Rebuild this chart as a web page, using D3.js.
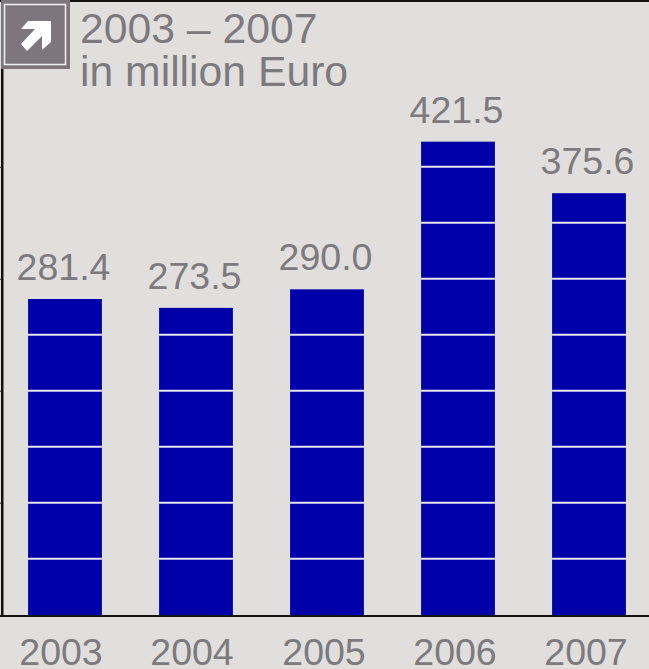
<!DOCTYPE html>
<html><head><meta charset="utf-8"><style>html,body{margin:0;padding:0;background:#e0dfde}svg{display:block}text{font-family:"Liberation Sans",Arial,sans-serif;fill:#7d7a7d}</style>
<script src="https://cdn.jsdelivr.net/npm/d3@7"></script></head><body><svg id="c" width="649" height="669"></svg>
<script>
const categories=["2003","2004","2005","2006","2007"];
const values=[281.4,273.5,290.0,421.5,375.6];
const valueLabels=["281.4","273.5","290.0","421.5","375.6"];
const gridValues=[50,100,150,200,250,300,350,400];
const tickValues=[100,200,300,400];
const titleLines=["2003 – 2007","in million Euro"];
const svg=d3.select("#c");
const x=d3.scaleBand().domain(categories).range([-0.5,654.5]).paddingInner(0.4366).paddingOuter(0.2183);
const y=d3.scaleLinear().domain([0,400]).range([615,165.8]);
const yGrid=d3.scaleLinear().domain([0,400]).range([614.6,166.8]);
svg.append("rect").attr("width",649).attr("height",669).attr("fill","#e0dfde");
svg.append("rect").attr("width",649).attr("height",2).attr("fill","#111");
svg.selectAll(".bar").data(values).join("rect").attr("x",(d,i)=>x(categories[i])).attr("width",x.bandwidth())
 .attr("y",d=>y(d)).attr("height",d=>y(0)-y(d)).attr("fill","#0000a8");
categories.forEach((c,i)=>{svg.selectAll(null).data(gridValues.filter(g=>g<values[i])).join("line")
 .attr("x1",x(c)).attr("x2",x(c)+x.bandwidth()).attr("y1",d=>yGrid(d)).attr("y2",d=>yGrid(d)).attr("stroke","#e4e4ec").attr("stroke-width",2);});
svg.selectAll(".vl").data(values).join("text").attr("x",(d,i)=>x(categories[i])+x.bandwidth()/2-1.5).attr("y",d=>y(d)-19)
 .attr("text-anchor","middle").attr("font-size",37.5).text((d,i)=>valueLabels[i]);
svg.selectAll(".xl").data(categories).join("text").attr("x",d=>x(d)+x.bandwidth()/2-4+(d>"2004"?1:0)).attr("y",665)
 .attr("text-anchor","middle").attr("font-size",37.5).text(d=>d);
const axisY=svg.append("g").attr("transform","translate(2,0)").call(d3.axisLeft(yGrid).tickValues(tickValues).tickSize(2).tickFormat(""));
axisY.select(".domain").remove();
axisY.selectAll("line").attr("stroke","#222");
svg.append("rect").attr("x",1).attr("y",0).attr("width",2.5).attr("height",616).attr("fill","#111");
svg.append("rect").attr("x",0).attr("y",615).attr("width",649).attr("height",2).attr("fill","#111");
svg.append("rect").attr("x",1).attr("y",0).attr("width",69).attr("height",69).attr("fill","#7d777c");
svg.append("rect").attr("x",4.5).attr("y",4.5).attr("width",61).attr("height",60).attr("fill","none").attr("stroke","#f2f1f1").attr("stroke-width",1.5);
svg.append("path").attr("d","M28 21H51V42L42 50V36L27 51L21 44L35 29H21Z").attr("fill","#fff");
svg.selectAll(".t").data(titleLines).join("text").attr("x",80).attr("y",(d,i)=>43+i*43).attr("font-size",42.7).text(d=>d);
</script></body></html>
